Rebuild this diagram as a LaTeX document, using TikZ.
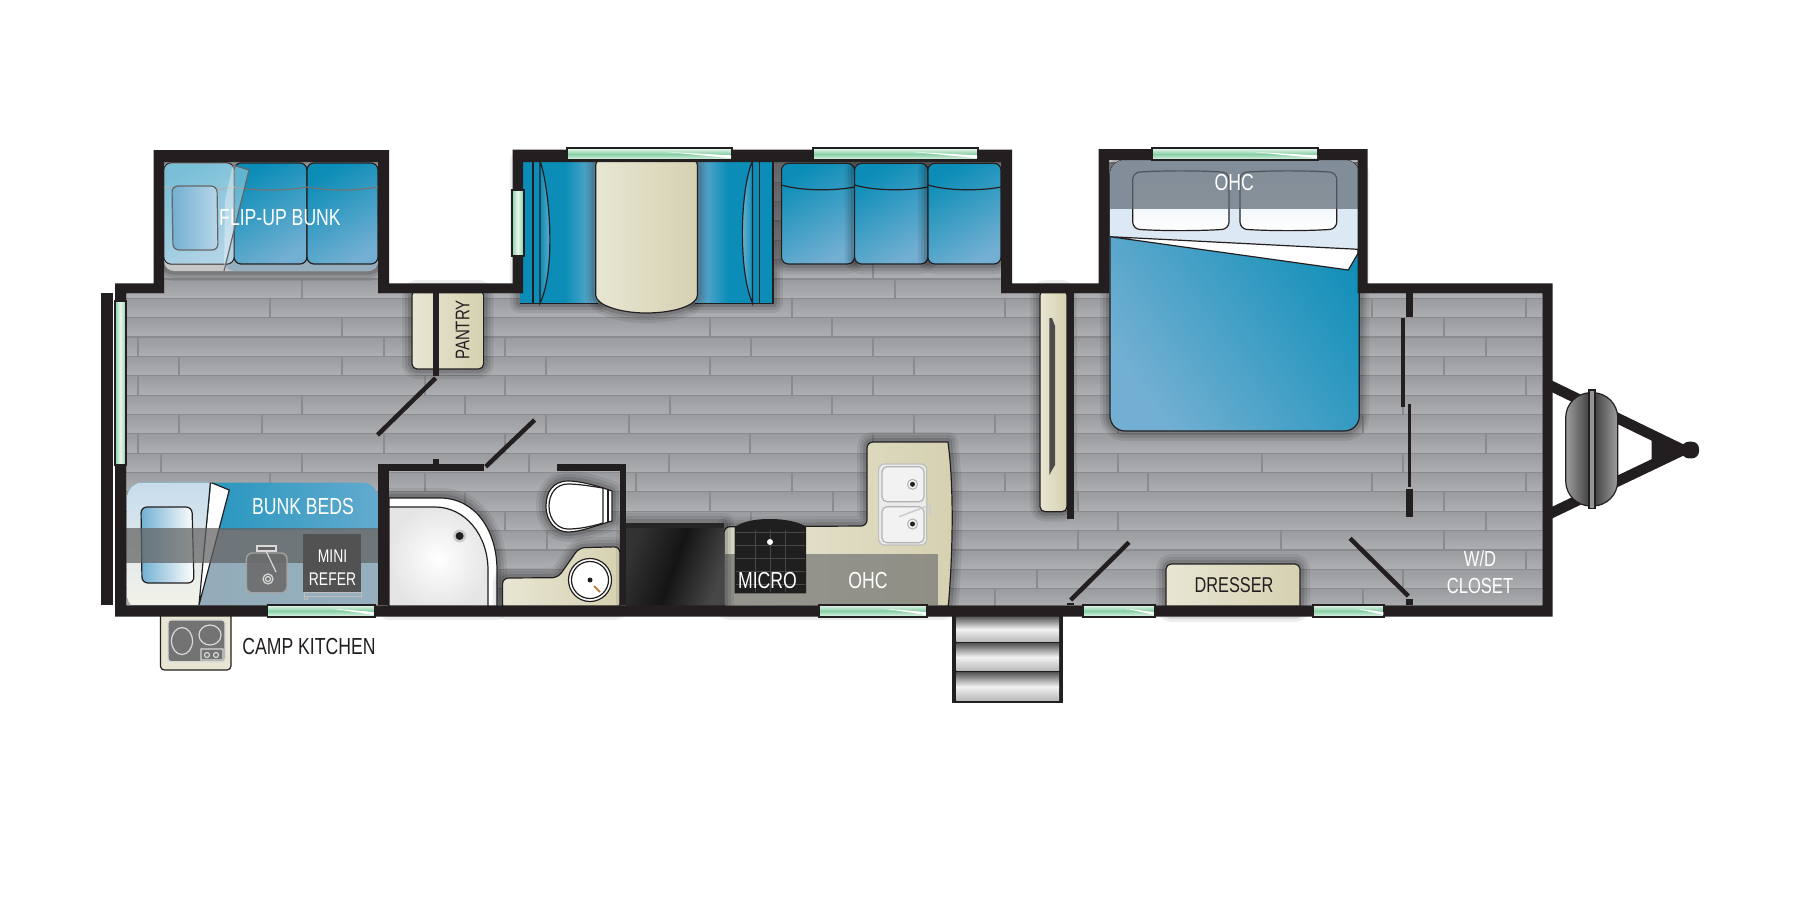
\documentclass[tikz,border=0pt]{standalone}
\usepackage{xcolor}
\usepackage{fontspec}
\setmainfont[FakeStretch=0.76]{Liberation Sans}
\definecolor{wallDark}{HTML}{231F20}
\definecolor{plankDark}{HTML}{9A9B9F}
\definecolor{plankPale}{HTML}{AEAFB3}
\definecolor{plankLine}{HTML}{8A8B8E}
\definecolor{seatDeep}{HTML}{0B8DB7}
\definecolor{seatPale}{HTML}{72AFD2}
\definecolor{creamPale}{HTML}{E8E6D3}
\definecolor{creamDeep}{HTML}{D5D1B1}
\definecolor{windowGreen}{HTML}{86CFA4}
\definecolor{windowPale}{HTML}{EAF7EF}
\definecolor{bandGrey}{HTML}{5F6A75}
\definecolor{sheetPale}{HTML}{DCE8F3}
\usepackage{tikz}
\usetikzlibrary{positioning,calc}
\tikzset{%
  softShadow/.style={%
    preaction={draw=black,opacity=.07,line width=.2cm,line join=round},
    preaction={draw=black,opacity=.09,line width=.14cm,line join=round},
    preaction={draw=black,opacity=.12,line width=.08cm,line join=round}
  },
  wallFill/.style={%
    fill=wallDark,
    draw=none
  },
  thinLine/.style={%
    draw=wallDark,
    line width=.012cm
  },
  doorLine/.style={%
    draw=wallDark,
    line width=.045cm
  },
  windowPane/.style={%
    draw=wallDark,
    line width=.018cm,
    top color=windowPale,
    bottom color=windowPale,
    middle color=windowGreen
  },
  windowSide/.style={%
    draw=wallDark,
    line width=.018cm,
    left color=windowGreen,
    right color=windowGreen,
    middle color=windowPale
  },
  seatCushion/.style={%
    thinLine,
    rounded corners=.07cm,
    left color=seatDeep,
    right color=seatPale,
    shading angle=30
  },
  creamBox/.style={%
    thinLine,
    left color=creamPale,
    right color=creamDeep
  },
  stepTread/.style={%
    top color=black!65,
    bottom color=black!28,
    middle color=black!5
  },
  labelWhite/.style={%
    text=white,
    inner sep=0pt,
    align=center,
    font=\fontsize{6.6}{7.8}\selectfont
  },
  labelDark/.style={%
    text=wallDark,
    inner sep=0pt,
    align=center,
    font=\fontsize{6.6}{7.8}\selectfont
  }
}
\newcommand{\floorPath}{(126.4,293.3) -- (164,293.3) -- (164,162) -- (378,162) -- (378,293.3) -- (523,293.3) -- (523,162) -- (1001,162) -- (1001,293.3) -- (1109,293.3) -- (1109,160) -- (1357.5,160) -- (1357.5,293.3) -- (1542.3,293.3) -- (1542.3,605.3) -- (126.4,605.3) -- cycle}
\newcommand{\windowH}[4]{%
  \draw[windowPane] (#1,#2) rectangle (#3,#4);
  \fill[white] ({#1+.6*(#3-#1)},{#2+.3*(#4-#2)}) -- ({#3-1},{#2+.6*(#4-#2)}) -- ({#3-1},{#2+.85*(#4-#2)}) -- cycle;
}
\begin{document}
\begin{tikzpicture}[x=.01cm,y=-.01cm]
  \useasboundingbox (0,0) rectangle (1800,900);
  \fill[white] (0,0) rectangle (1800,900);

  % floor
  \begin{scope}
    \clip \floorPath;
    \foreach \row in {-6,...,16} {
      \shade[top color=plankDark,bottom color=plankPale] (120,{279+19.35*\row}) rectangle (1550,{279+19.35*(\row+1)});
      \draw[plankLine,line width=.012cm] (120,{279+19.35*\row}) -- (1550,{279+19.35*\row});
    }
    \foreach \row/\jointList in {
      -1/{873},0/{302,895},1/{270,792,1005,1372,1526},2/{342,710,832,1444},
      3/{138,384,505,751,873,1486},4/{179,342,546,710,914,1444},5/{138,425,505,792,873,1526},
      6/{302,465,670,832,1403},7/{179,262,546,629,914,995,1118,1363},8/{138,384,505,750,873,1486},
      9/{161,302,529,669,1118,1262,1403},10/{270,425,636,792,1005,1148,1372,1526},11/{465,710,833,1078,1444},
      12/{505,751,1118,1486},13/{547,1078,1281,1444},14/{300,640,900,1526},15/{1037,1403},16/{995,1363}} {
      \foreach \jx in \jointList {
        \draw[plankLine,line width=.012cm] (\jx,{279+19.35*\row}) -- (\jx,{279+19.35*(\row+1)});
      }
    }
  \end{scope}

  % flip-up bunk
  \fill[fill=black!22,rounded corners=.1cm,softShadow] (164,180) rectangle (378,271);
  \fill[rounded corners=.1cm,fill=seatPale!70!black!60!white] (224,240) rectangle (378,271);
  \draw[seatCushion] (164,163) rectangle (234,264);
  \draw[seatCushion] (234,163) rectangle (307,264);
  \draw[seatCushion] (307,163) rectangle (378,264);
  \draw[thinLine,draw=black!55] (164,187) .. controls (190,191) and (215,191) .. (234,187) .. controls (255,191) and (285,191) .. (307,187) .. controls (330,191) and (355,191) .. (378,187);
  \fill[white,opacity=.45,rounded corners=.08cm] (164,163) rectangle (234,264);
  \fill[white,opacity=.35] (232.9,165) -- (249,170) -- (224,271) -- (225,200) -- cycle;
  \draw[thinLine,draw=black!60] (232.9,165) -- (249,170) -- (224,271);
  \draw[thinLine,draw=black!60,rounded corners=.06cm,left color=seatPale,right color=seatPale!50] (172,186) -- (217,186) -- (218,250) -- (173,250) -- cycle;

  % dinette and sofa
  \fill[seatDeep,softShadow] (519.6,160.7) rectangle (598,303.3);
  \shade[left color=seatDeep,right color=seatPale] (565,160.7) rectangle (598,303.3);
  \fill[seatDeep,softShadow] (695,160.7) rectangle (773,303.3);
  \shade[left color=seatPale,right color=seatDeep] (695,160.7) rectangle (728,303.3);
  \draw[thinLine,left color=seatDeep,right color=seatPale!80] (540,160.7) .. controls (550,190) and (556,270) .. (540,303.3) -- cycle;
  \draw[thinLine,left color=seatPale!80,right color=seatDeep] (752.5,160.7) .. controls (740,190) and (738,270) .. (752.5,303.3) -- cycle;
  \draw[thinLine] (533,160.7) -- (533,303.3) (759.6,160.7) -- (759.6,303.3);
  \draw[thinLine] (519.6,303.3) -- (598,303.3) (695,303.3) -- (773,303.3) -- (773,160.7);
  \draw[creamBox,softShadow] (600,160.7) -- (693,160.7) .. controls (696,160.7) and (697.5,162) .. (697.5,165) -- (697.5,295) .. controls (697.5,305) and (675,313) .. (646,313) .. controls (620,313) and (595.7,305) .. (595.7,295) -- (595.7,165) .. controls (595.7,162) and (597,160.7) .. (600,160.7) -- cycle;
  \foreach \sx/\ex in {781.4/854.6,854.6/927.9,927.9/1001} {
    \draw[seatCushion,softShadow] (\sx,163.3) rectangle (\ex,264);
    \draw[thinLine] (\sx,185) .. controls ({\sx+20},191) and ({\ex-20},191) .. (\ex,187);
  }

  % pantry
  \draw[creamBox,softShadow,rounded corners=.05cm] (412,290) -- (412,369) -- (483.6,369) -- (483.6,290) -- cycle;

  % bunk beds
  \begin{scope}
    \clip[rounded corners=.14cm] (127.5,482.7) rectangle (377.5,610);
    \shade[left color=seatDeep,right color=seatPale!85!seatDeep] (127.5,482.7) rectangle (377.5,530);
    \shade[left color=black!35!seatPale!60!white,right color=black!30!seatPale!60!white] (127.5,530) rectangle (377.5,605);
    \shade[top color=sheetPale!80!seatPale,bottom color=creamPale!50!white] (127.5,482.7) -- (210.4,482.7) -- (199,605) -- (127.5,605) -- cycle;
    \fill[white] (211.4,482.7) -- (229.3,490) -- (199,605) -- cycle;
    \draw[thinLine] (210.4,482.7) -- (199,605) (211.4,482.7) -- (229.3,490) -- (199,605);
    \draw[thinLine,rounded corners=.06cm,left color=seatPale,right color=white] (141,507) -- (192,507) -- (194,583) -- (142,583) -- cycle;
  \end{scope}
  \fill[black!62,opacity=.72] (126.4,528) rectangle (378,562.7);
  \fill[black!68] (303,534) rectangle (361,591.7);
  \draw[white!75!black,line width=.01cm] (304,592) rectangle (361,596.5) (304,596.5) rectangle (307,599);
  \draw[black!35,fill=black!58,opacity=.9,rounded corners=.06cm] (246.4,553) rectangle (287,592.7);
  \draw[black!15,line width=.012cm,fill=black!60] (257,546) rectangle (276,551);
  \draw[black!15,line width=.012cm] (266,551) -- (276,572) (268,579) circle (.05cm) (268,579) circle (.025cm);

  % bath
  \draw[thinLine,fill=white,softShadow] (389,498) -- (440,498) .. controls (475,498) and (497,530) .. (497,570) -- (497,610) -- (389,610) -- cycle;
  \draw[thinLine,inner color=white,outer color=black!10] (389,507) -- (435,507) .. controls (465,507) and (488,535) .. (488,570) -- (488,610) -- (389,610) -- cycle;
  \fill[black!20] (459.6,536) circle (.065cm);
  \fill[wallDark] (459.6,536) circle (.04cm);
  \draw[thinLine,fill=white,softShadow] (612,491) .. controls (595,485) and (580,481) .. (568,481) .. controls (553,481) and (546,492) .. (546,506) .. controls (546,522) and (556,532) .. (568,532) .. controls (580,532) and (595,526) .. (612,521) -- cycle;
  \draw[thinLine] (603,488) .. controls (590,486) and (578,484) .. (568,484) .. controls (556,484) and (549,494) .. (549,506) .. controls (549,520) and (558,529) .. (568,529) .. controls (578,529) and (590,527) .. (603,523) -- cycle;
  \draw[thinLine] (608,490) -- (608,522);
  \draw[creamBox,softShadow,rounded corners=.06cm] (502.5,610) -- (502.5,578) -- (558,577.7) -- (579,547.7) -- (620,546.7) -- (620,610) -- cycle;
  \draw[thinLine,fill=white] (590,580) circle (.215cm);
  \draw[thinLine] (590,580) circle (.185cm);
  \fill[wallDark] (590,580) circle (.025cm);
  \draw[brown,line width=.02cm] (594,586) -- (600,592);

  % kitchen
  \draw[creamBox,softShadow,rounded corners=.06cm] (724,610) -- (724,526.7) -- (867,526) -- (867,442) -- (942,442) .. controls (948,442) and (949,450) .. (950,460) .. controls (953,500) and (953,550) .. (948,610) -- cycle;
  \draw[black!25,fill=black!8,line width=.012cm,rounded corners=.06cm] (878.6,464) rectangle (926.8,545);
  \foreach \by/\ey/\dy in {466.7/501.7/484.3,506.7/542.7/524} {
    \draw[black!30,line width=.012cm,fill=white!95!black,rounded corners=.05cm] (882,\by) rectangle (924,\ey);
    \draw[black!30,fill=black!5,line width=.01cm] (912.5,\dy) circle (.05cm);
    \fill[wallDark] (912.5,\dy) circle (.025cm);
  }
  \draw[black!20,line width=.015cm] (899,516.7) -- (930,505) -- (930,515);
  \fill[black!55,opacity=.7] (719,554) rectangle (937.5,605);
  \shade[left color=black!80,right color=black!72,middle color=black!92,shading angle=70,softShadow] (626,523.3) rectangle (724,605);
  \fill[black!85] (626,523.3) rectangle (724,528);
  \fill[black!88] (734.6,527) .. controls (745,520) and (760,519) .. (770,519) .. controls (785,519) and (800,522) .. (806,527) -- (806,593.3) -- (734.6,593.3) -- cycle;
  \foreach \gy in {532,545,558,571,584} {
    \draw[black!72,line width=.008cm] (736,\gy) -- (805,\gy);
  }
  \foreach \gx in {755,770,785} {
    \draw[black!72,line width=.008cm] (\gx,530) -- (\gx,592);
  }
  \fill[white] (770,542) circle (.03cm);

  % wardrobe, dresser
  \draw[creamBox,softShadow,rounded corners=.05cm] (1040,290) -- (1040,511.7) -- (1067,511.7) -- (1067,290) -- cycle;
  \fill[black!70] (1049.3,318) -- (1052,318) -- (1055,326) -- (1055,465) -- (1049.3,475) -- cycle;
  \draw[creamBox,softShadow,rounded corners=.05cm] (1166,612) -- (1166,564) -- (1300,564) -- (1300,612) -- cycle;

  % master bed
  \draw[thinLine,rounded corners=.15cm,left color=seatPale,right color=seatDeep,shading angle=125,softShadow] (1110,160) rectangle (1359.3,431);
  \begin{scope}
    \clip[rounded corners=.15cm] (1110,160) rectangle (1359.3,431);
    \fill[sheetPale] (1105,155) -- (1365,155) -- (1365,250) -- (1110,236.7) -- cycle;
    \draw[thinLine,fill=white] (1110,236.7) -- (1358,249.3) -- (1358,253.3) -- (1348.3,270) -- cycle;
    \foreach \px/\qx in {1132.7/1229,1240/1336.7} {
      \draw[thinLine,rounded corners=.07cm,top color=seatPale!25,bottom color=white] (\px,172.5) .. controls ({\px+30},170.5) and ({\qx-30},170.5) .. (\qx,172.5) -- (\qx,229) .. controls ({\qx-30},231) and ({\px+30},231) .. (\px,229) -- cycle;
    }
    \fill[bandGrey,opacity=.72] (1105,155) rectangle (1365,209.3);
  \end{scope}

  % camp kitchen
  \draw[thinLine,fill=creamPale,rounded corners=.04cm] (160.4,612) -- (160.4,670) -- (231,670) -- (231,612) -- cycle;
  \draw[white!85!black,fill=black!55,line width=.012cm,rounded corners=.03cm] (168,620) rectangle (225,661.7);
  \draw[white!85!black,line width=.012cm] (182,641) ellipse (.105cm and .135cm) (210,635) ellipse (.11cm and .1cm);
  \draw[white!85!black,line width=.012cm] (201,649) rectangle (223,660) (207,655) circle (.025cm) (216,655) circle (.025cm);

  % steps
  \fill[wallDark] (951.8,612) rectangle (1063,702.7);
  \shade[stepTread] (956.4,616.7) rectangle (1059,641.7);
  \shade[stepTread] (956.4,643.5) rectangle (1059,670.7);
  \shade[stepTread] (956.4,672.5) rectangle (1059,700.7);

  % hitch
  \draw[draw=wallDark,line width=.105cm] (1545,383) -- (1683,450) -- (1545,516);
  \fill[wallDark] (1651.7,438.3) -- (1683,450) -- (1651.7,461.7) -- cycle;
  \fill[wallDark,rounded corners=.07cm] (1681.7,441.7) rectangle (1699,458.3);
  \draw[thinLine,left color=black!38,right color=black!38,middle color=black!78,rounded corners=.25cm] (1565.7,392.7) rectangle (1617.7,506);
  \draw[thinLine,fill=black!42] (1589,390) rectangle (1595,508.7);

  % walls
  \fill[wallDark,even odd rule] (115,283.3) -- (153.6,283.3) -- (153.6,150) -- (389,150) -- (389,283.3) -- (512.5,283.3) -- (512.5,149.5) -- (1012,149.5) -- (1012,283.3) -- (1098.7,283.3) -- (1098.7,149) -- (1367.7,149) -- (1367.7,283.3) -- (1552.7,283.3) -- (1552.7,616.5) -- (115,616.5) -- cycle \floorPath;
  \fill[wallFill] (101,293.3) rectangle (113,605.3);
  \fill[wallFill] (433,293) rectangle (439,376);
  \fill[wallFill] (378,464) rectangle (484,470.7);
  \fill[wallFill] (433,459) rectangle (439,464);
  \fill[wallFill] (378,464) rectangle (389,605);
  \fill[wallFill] (557,464) rectangle (625.7,470.7);
  \fill[wallFill] (620.4,464) rectangle (625.7,605);
  \fill[wallFill] (1067.3,293) rectangle (1074,519);
  \fill[wallFill] (1406,293) rectangle (1412.7,317.3);
  \fill[wallFill] (1401,317.7) rectangle (1405.3,406.7);
  \fill[wallFill] (1407.7,404.3) rectangle (1411.3,486.7);
  \fill[wallFill] (1406,489) rectangle (1412.7,517.3);
  \fill[wallFill] (1406,599.3) rectangle (1412.7,605);
  \fill[wallFill] (1067,602.7) rectangle (1074,605);
  \draw[doorLine] (435.7,378) -- (377.5,435);
  \draw[doorLine] (485.7,466.7) -- (534.6,420);
  \draw[doorLine] (1070.7,600) -- (1129,542.3);
  \draw[doorLine] (1350,538.3) -- (1408.3,596);

  % windows
  \windowH{567}{148.3}{732}{160}
  \windowH{813}{148.3}{978}{160}
  \windowH{1152}{148.3}{1318}{160}
  \windowH{267.5}{605}{374.6}{616.7}
  \windowH{819}{605}{926.8}{616.7}
  \windowH{1083}{605}{1154.6}{616.7}
  \windowH{1313.3}{605}{1384.3}{616.7}
  \draw[windowSide] (115,300.7) rectangle (126,465);
  \draw[windowSide] (511.8,190) rectangle (523.6,256);

  % labels
  \node[labelWhite] (flipBunkLabel) at (280,218) {FLIP-UP BUNK};
  \node[labelDark,rotate=90,font=\fontsize{5.6}{6.5}\selectfont] (pantryLabel) at (462.5,330) {PANTRY};
  \node[labelWhite] (bunkBedsLabel) at (303,507) {BUNK BEDS};
  \node[labelWhite,font=\fontsize{5.2}{6.5}\selectfont] (miniReferLabel) at (332.5,568) {MINI\\REFER};
  \node[labelDark] (campKitchenLabel) at (309,646.7) {CAMP KITCHEN};
  \node[labelWhite] (microLabel) at (767.5,581) {MICRO};
  \node[labelWhite] (kitchenOhcLabel) at (868,581) {OHC};
  \node[labelWhite] (bedOhcLabel) at (1234.3,182.3) {OHC};
  \node[labelDark,font=\fontsize{6.1}{7.8}\selectfont] (dresserLabel) at (1234,585.5) {DRESSER};
  \node[labelWhite,font=\fontsize{6.2}{7.8}\selectfont] (closetLabel) at (1480,572) {W/D\\CLOSET};
\end{tikzpicture}
\end{document}
